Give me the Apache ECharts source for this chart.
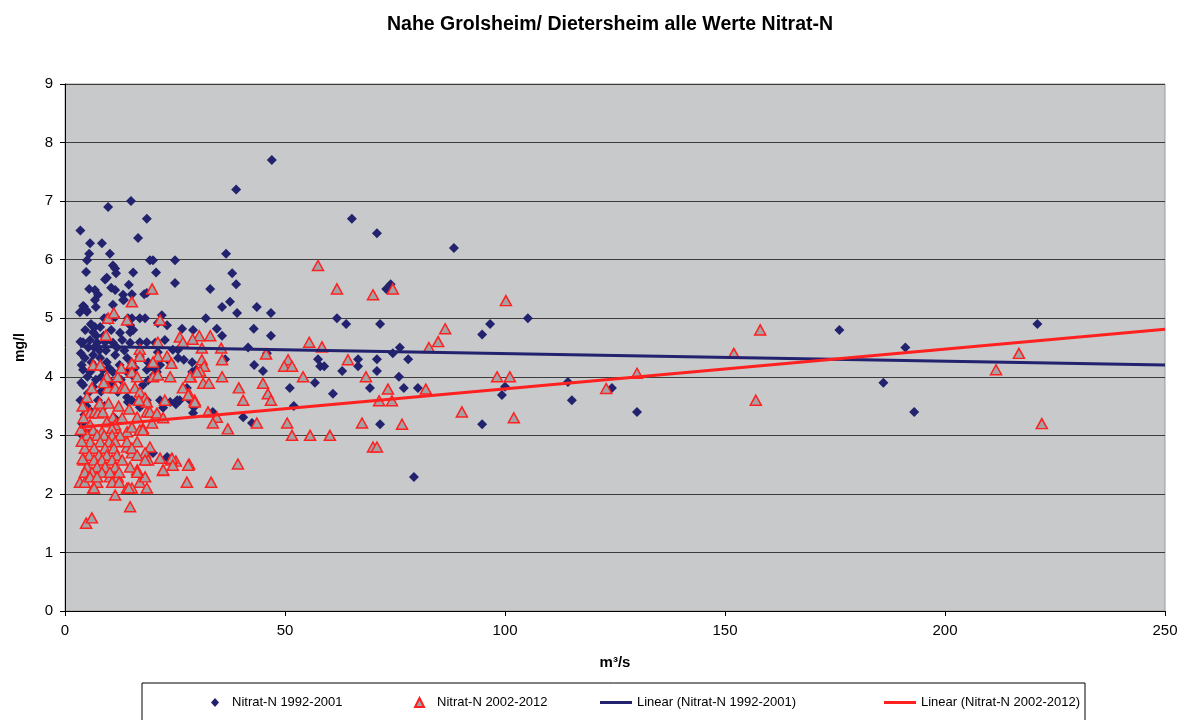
<!DOCTYPE html>
<html>
<head>
<meta charset="utf-8">
<script src="https://cdn.jsdelivr.net/npm/echarts@6/dist/echarts.min.js"></script>
<style>
  html, body { margin: 0; padding: 0; background: #fff; }
  #chart { width: 1181px; height: 720px; }
</style>
</head>
<body>
<div id="chart"></div>
<script>
// x = Abfluss (m³/s), y = Nitrat-N (mg/l)
var nitrat1992 = [
  [3.5,6.5],[9.8,6.9],[15,7.0],[18.6,6.7],[38.9,7.2],[47,7.7],[65.2,6.7],[70.9,6.45],[88.4,6.2],[16.6,6.37],[36.6,6.1],
  [5.7,6.28],[8.4,6.28],[5.5,6.1],[5.0,5.99],[4.8,5.79],[10.2,6.1],[20,5.99],[25,5.99],[19.3,5.99],
  [10.9,5.9],[11.4,5.85],[11.6,5.77],[15.5,5.78],[38,5.77],[20.7,5.78],[25,5.6],[38.9,5.58],[33,5.5],[73,5.5],[74,5.58],[9.5,5.69],[9.1,5.66],[14.5,5.57],
  [5.5,5.5],[6.8,5.48],[7.5,5.4],[7.0,5.19],[10.5,5.52],[11.4,5.48],[13.2,5.4],[13.4,5.31],[15.2,5.41],[18,5.41],[18.6,5.43],
  [35.7,5.19],[37.5,5.28],[43.6,5.19],[39.1,5.09],[46.8,5.09],[32,5.0],[61.8,5.0],[63.9,4.9],[105.2,5.0],[71.6,4.9],[96.6,4.9],[94.8,4.72],[221,4.9],[176,4.8],
  [26.6,4.82],[29.1,4.8],[34.5,4.82],[35.7,4.7],[42.9,4.82],[46.8,4.7],[41.6,4.5],[45.9,4.4],[43,4.2],[45,4.1],[36.4,4.3],[29.8,4.12],
  [57.5,4.3],[58,4.18],[58.9,4.18],[66.6,4.3],[66.6,4.18],[63,4.1],[70.9,4.3],[70.9,4.1],[76.1,4.5],[74.5,4.4],[78,4.3],[75.9,4.0],
  [69.3,3.81],[77,3.81],[80.2,3.81],[100,3.83],[99.3,3.69],[71.6,3.19],[94.8,3.19],[114.3,3.91],[115.2,3.6],[124.3,3.81],[79.3,2.29],
  [130,3.4],[191,4.5],[186,3.9],[193,3.4],
  [56.8,3.9],[51.1,3.81],[60.9,3.71],[52,3.5],[27.7,3.81],[26.1,3.6],[29.3,3.48],[29.1,3.38],[40.5,3.31],[42.5,3.21],[33.6,3.4],
  [4.1,5.21],[6.8,5.31],[13.2,5.31],[5.0,5.11],[4.3,5.2],[3.4,5.1],[4.8,5.14],[10.9,5.23],[5.9,4.9],[6.8,4.85],[8.9,5.0],[10.2,4.97],
  [14.3,5.0],[14.8,4.88],[17,5.0],[9.5,5.0],[11.4,5.02],[15.2,5.0],[18.2,5.0],[21.1,4.92],[23.2,4.88],[22,5.05],
  [6.1,4.88],[6.4,4.76],[8,4.85],[12.5,4.75],[14.8,4.76],[15.5,4.8],
  [4.1,4.59],[5.7,4.63],[7.3,4.58],[9.1,4.59],[10.9,4.58],[13,4.63],[14.8,4.58],[17,4.59],[18.6,4.59],[20.5,4.58],[22.7,4.63],
  [4.5,4.32],[6.4,4.37],[8,4.32],[9.5,4.25],[11.4,4.37],[14.1,4.32],[15.2,4.23],[17,4.34],[18.9,4.25],[20,4.17],[21.6,4.2],
  [24.5,4.46],[25.7,4.32],[28.9,4.25],[21.1,4.42],[23.9,4.25],[27,4.29],[25.7,4.46],
  [4.1,4.12],[5.7,4.08],[6.8,4.17],[8.6,4.12],[10.9,4.08],[14.1,4.08],[15.9,4.15],[18.6,4.12],[19.8,4.17],[20.9,4.08],[28.9,4.08],[20.2,4.03],
  [4.1,3.86],[5.2,3.72],[6.4,3.83],[7.5,3.6],[9.5,3.81],[12,3.74],[14.1,3.65],[15.2,3.6],[17,3.48],[18.6,3.6],[21.6,3.6],[22.3,3.47],
  [25.5,3.6],[28.4,3.6],[15.9,3.98],[17.7,3.86],[18.9,3.94],[14.3,3.57],[17.7,3.57],[25.2,3.53],[23.9,3.57],
  [3.9,3.2],[3.9,3.0],[3.9,3.06],[20,2.7],[23.4,2.61],[23.2,2.63],
  [3.5,4.6],[3.6,4.4],[3.8,4.2],[4.6,4.8],[5.3,4.5],[5.1,4.0],[6.0,4.25],[6.6,4.5],[7.1,4.7],[7.8,4.45],[8.3,4.0],[8.8,4.7],
  [9.3,4.45],[10,4.15],[10.5,4.8],[11.8,4.5],[12.4,4.2],[13.5,4.45],[3.7,3.9],[4.9,3.5],[6.0,3.4],[7.0,3.95],[8.2,3.75],[9.0,3.5],
  [10.6,3.9],[11.2,3.3],[12.7,3.95],[3.5,3.6],[4.4,3.35],[5.6,3.1]
];

var nitrat2002 = [
  [57.5,5.9],[61.8,5.5],[70,5.4],[74.5,5.5],[100.2,5.3],[86.4,4.82],[84.8,4.6],[82.7,4.5],[55.5,4.59],[58.4,4.51],[64.3,4.29],
  [73.4,3.79],[82,3.79],[98.2,4.0],[101.1,4.0],[90.2,3.4],[102,3.3],[76.6,3.19],[71.4,3.59],[74.3,3.59],[130,4.06],[123,3.8],
  [152,4.4],[158,4.8],[157,3.6],[211.6,4.12],[216.8,4.4],[222,3.2],[70,2.8],[70.9,2.8],[60.2,3.0],[55.7,3.0],[51.6,3.0],[50.5,3.21],
  [45.7,4.39],[50.7,4.29],[49.8,4.18],[51.6,4.18],[54.1,4.0],[68.4,4.0],[67.5,3.21],[43.6,3.21],[45,3.89],[46.1,3.71],[46.8,3.6],
  [39.5,3.81],[40.5,3.6],[37,3.11],[39.3,2.51],[33.2,2.2],[27.7,2.2],[28.2,2.51],
  [30.5,4.7],[33,4.7],[31.1,4.49],[35.5,4.49],[31.1,4.29],[35.7,4.29],[31.6,4.18],[30.7,4.1],[28.6,4.0],[31.4,3.89],[32.7,3.89],
  [35.7,4.0],[26.8,3.81],[28.2,3.71],[29.5,3.6],[32.5,3.4],[34.5,3.31],[33.6,3.21],[26.1,4.68],[29,4.64],
  [25.2,2.56],[24.1,2.58],[22.3,2.4],
  [21.6,4.97],[19.8,5.5],[15.2,5.28],[14.1,4.97],[9.8,5.0],[11.1,5.09],[9.3,4.71],[17,4.47],[21.1,4.59],[17,4.35],[21.1,4.35],
  [23.2,4.35],[15.2,4.23],[20,4.25],[24.2,4.23],[26.8,4.59],
  [6.4,4.2],[8,4.2],[9.5,4.0],[12,4.0],[15.2,4.08],[16.4,4.0],[20,4.0],[21.1,4.03],[23.9,4.0],[28.4,4.0],[30,4.08],
  [6.1,3.81],[9.8,3.81],[11.4,3.81],[13,3.81],[13.6,3.81],[15.9,3.81],[17,3.74],[18.2,3.64],[18.6,3.57],[22.7,3.6],[28,3.69],[29.5,3.57],
  [5,3.65],[5,3.4],[5.7,3.38],[6.8,3.4],[7.5,3.38],[8.6,3.4],[10.9,3.31],[9.5,3.23],[11.4,3.18],[13,3.3],[18.6,3.4],[19.3,3.4],
  [20.9,3.38],[22.3,3.3],[5.7,3.18],[6.4,3.09],[8.4,3.06],[10.7,3.12],[14.1,3.06],[15.2,3.14],[16.4,3.31],[17.7,3.12],[19.8,3.21],
  [3.4,2.2],[4.5,2.2],[6.4,2.1],[7.3,2.2],[10.2,2.29],[11.4,2.29],[12,2.29],[14.1,2.8],[15.2,2.7],[16.4,2.89],[17,3.09],[17.7,3.09],
  [19.3,2.8],[18.2,2.7],[16.4,2.41],[17,2.2],[18.2,2.29],[18.9,2.58],[21.6,2.61],[22.3,2.41],[24.3,2.61],[24.5,2.49],[28,2.49],
  [18.6,2.1],[14.1,2.1],[15.2,2.1],[11.4,1.98],[14.8,1.78],[4.8,1.5],[6.1,1.59],
  [5,3.0],[7.3,3.0],[8.9,3.0],[10.7,3.0],[12.5,3.0],
  [5.7,2.89],[8,2.89],[10,2.89],[11.4,2.89],[14.1,2.89],
  [4.5,2.78],[6.6,2.78],[9.1,2.78],[11.1,2.78],[15.2,2.78],
  [5.5,2.66],[7.7,2.66],[9.5,2.66],[11.8,2.66],[16.4,2.66],
  [4.3,2.58],[6.6,2.58],[8.4,2.58],[10.7,2.58],[13,2.58],[18.2,2.58],
  [5,2.46],[7.3,2.46],[9.1,2.46],[11.4,2.46],[14.8,2.46],
  [4.5,2.37],[6.1,2.37],[8.4,2.37],[10.2,2.37],[12.3,2.37],[16.4,2.37],
  [5.7,2.29],[7.3,2.29],[10.7,2.2],[12.3,2.2],[6.6,2.1],[14.5,2.1],
  [4.2,3.3],[4.0,3.5],[3.8,2.9],[4.0,2.6],[3.6,3.1],[7.9,3.55],[9.9,3.55],[12.2,3.5],[14.6,3.45],[16.8,3.6],[8.8,3.9],[12.8,4.15]
];

var trend1992 = [[3.4, 4.52], [250, 4.2]];
var trend2002 = [[3.4, 3.14], [250, 4.81]];

var xTicks = { min: 0, max: 250, interval: 50 };
var yTicks = { min: 0, max: 9, interval: 1 };

var names = ['Nitrat-N 1992-2001', 'Nitrat-N 2002-2012',
             'Linear (Nitrat-N 1992-2001)', 'Linear (Nitrat-N 2002-2012)'];

var blue = '#22226e';
var red = '#ff2020';
var font = '"Liberation Sans", Arial, sans-serif';

// one small legend per entry, placed like the excel legend row
function legendItem(name, icon, left, w, h, pad) {
    return {
        data: [{ name: name, icon: icon }],
        left: left, top: 696,
        padding: 0,
        itemWidth: w, itemHeight: h,
        selectedMode: false,
        textStyle: { fontSize: 13, color: '#000', fontFamily: font, padding: [0, 0, 0, pad] }
    };
}

var myChart = echarts.init(document.getElementById('chart'));
myChart.setOption({
    animation: false,
    backgroundColor: '#fff',
    textStyle: { fontFamily: font },
    title: {
        text: 'Nahe Grolsheim/ Dietersheim alle Werte Nitrat-N',
        left: 382,
        top: 10,
        textStyle: { fontSize: 19.5, fontWeight: 'bold', color: '#000', fontFamily: font }
    },
    grid: {
        left: 65, right: 16, top: 84, bottom: 109,
        show: true,
        backgroundColor: '#c8c9cb',
        borderColor: '#9a9a9a',
        borderWidth: 1
    },
    legend: [
        legendItem(names[0], 'diamond', 211, 8, 9, 8),
        legendItem(names[1], 'triangle', 414, 9, 9, 8),
        legendItem(names[2], 'rect', 600, 32, 3, 0),
        legendItem(names[3], 'rect', 884, 32, 3, 0)
    ],
    graphic: [{
        type: 'rect',
        shape: { x: 142, y: 683, width: 943, height: 60 },
        style: { fill: 'none', stroke: '#000', lineWidth: 1 },
        silent: true,
        z: -1
    }],
    xAxis: {
        type: 'value',
        min: xTicks.min, max: xTicks.max, interval: xTicks.interval,
        name: 'm³/s',
        nameLocation: 'middle',
        nameGap: 44,
        nameTextStyle: { fontSize: 15, fontWeight: 'bold', color: '#000' },
        axisLine: { show: true, onZero: false, lineStyle: { color: '#000', width: 1 } },
        axisTick: { show: true, length: 5, lineStyle: { color: '#000' } },
        axisLabel: { fontSize: 15, color: '#000', margin: 12 },
        splitLine: { show: false }
    },
    yAxis: {
        type: 'value',
        min: yTicks.min, max: yTicks.max, interval: yTicks.interval,
        name: 'mg/l',
        nameLocation: 'middle',
        nameGap: 38,
        nameRotate: 90,
        nameTextStyle: { fontSize: 14, fontWeight: 'bold', color: '#000' },
        axisLine: { show: true, lineStyle: { color: '#000', width: 1 } },
        axisTick: { show: true, length: 5, lineStyle: { color: '#000' } },
        axisLabel: { fontSize: 15, color: '#000', margin: 12 },
        splitLine: { show: true, lineStyle: { color: '#3c3c3c', width: 1 } }
    },
    series: [
        {
            name: names[0],
            type: 'scatter',
            symbol: 'diamond',
            symbolSize: [10, 10],
            itemStyle: { color: blue, opacity: 1 },
            data: nitrat1992,
            z: 2
        },
        {
            name: names[1],
            type: 'scatter',
            symbol: 'triangle',
            symbolSize: [11, 10],
            itemStyle: { color: '#a3a3a5', borderColor: red, borderWidth: 1.5, opacity: 1 },
            data: nitrat2002,
            z: 3
        },
        {
            name: names[2],
            type: 'line',
            symbol: 'none',
            lineStyle: { color: blue, width: 3 },
            itemStyle: { color: blue },
            data: trend1992,
            z: 4
        },
        {
            name: names[3],
            type: 'line',
            symbol: 'none',
            lineStyle: { color: red, width: 3 },
            itemStyle: { color: red },
            data: trend2002,
            z: 5
        }
    ]
});
</script>
</body>
</html>
